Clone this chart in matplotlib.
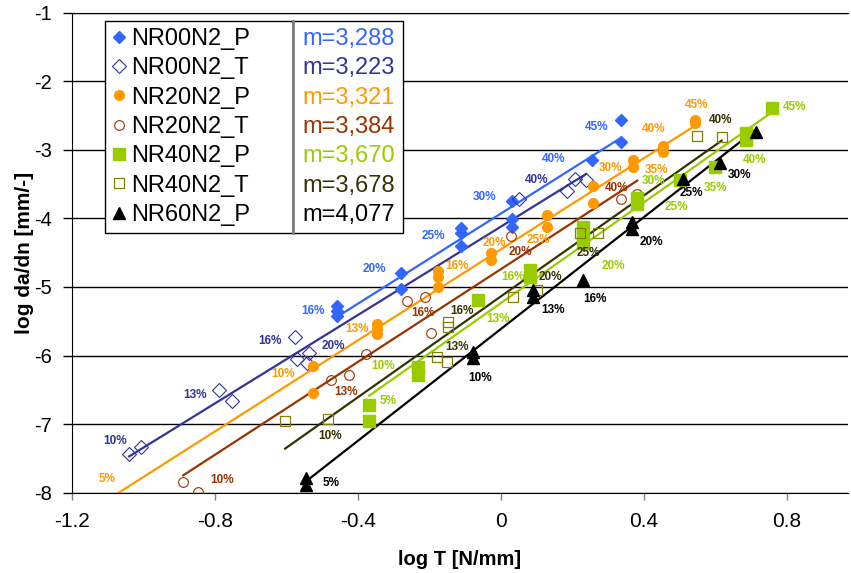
import matplotlib
matplotlib.use("Agg")
import matplotlib.pyplot as plt
import numpy as np
from matplotlib.patches import Rectangle

plt.rcParams['font.family'] = ['Liberation Sans', 'DejaVu Sans']
plt.rcParams['axes.unicode_minus'] = False

# log T [N/mm] and log da/dn [mm/-] for each test series
nr00p_x = [-0.458, -0.458, -0.458, -0.279, -0.279, -0.111, -0.111, -0.111, 0.032, 0.032, 0.032, 0.256, 0.336, 0.336]
nr00p_y = [-5.28, -5.35, -5.42, -4.79, -5.03, -4.14, -4.21, -4.40, -3.75, -4.01, -4.13, -3.15, -2.89, -2.56]

nr00t_x = [-1.039, -1.006, -0.789, -0.752, -0.575, -0.571, -0.535, -0.543, 0.052, 0.185, 0.208, 0.239]
nr00t_y = [-7.44, -7.33, -6.50, -6.67, -5.73, -6.05, -5.97, -6.11, -3.72, -3.60, -3.42, -3.44]

nr20p_x = [-1.085, -0.524, -0.524, -0.347, -0.347, -0.347, -0.175, -0.175, -0.175, -0.028, -0.028,
           0.129, 0.129, 0.259, 0.259, 0.371, 0.371, 0.455, 0.455, 0.544, 0.544]
nr20p_y = [-8.10, -6.15, -6.54, -5.54, -5.61, -5.68, -4.77, -4.86, -5.00, -4.51, -4.61,
           -3.95, -4.12, -3.53, -3.77, -3.15, -3.25, -2.94, -3.03, -2.57, -2.61]

nr20t_x = [-0.888, -0.846, -0.476, -0.424, -0.378, -0.261, -0.212, -0.195, 0.030, 0.336, 0.382]
nr20t_y = [-7.85, -7.99, -6.36, -6.28, -5.98, -5.20, -5.14, -5.67, -4.25, -3.72, -3.64]

nr40p_x = [-0.368, -0.368, -0.232, -0.232, -0.064, 0.082, 0.082, 0.231, 0.231, 0.231, 0.382, 0.382,
           0.502, 0.600, 0.685, 0.685, 0.760]
nr40p_y = [-6.72, -6.95, -6.17, -6.28, -5.19, -4.75, -4.86, -4.13, -4.24, -4.36, -3.70, -3.79,
           -3.44, -3.25, -2.76, -2.86, -2.39]

nr40t_x = [-0.603, -0.482, -0.177, -0.151, -0.147, -0.147, 0.035, 0.101, 0.222, 0.273, 0.550, 0.618]
nr40t_y = [-6.96, -6.93, -6.02, -6.09, -5.51, -5.59, -5.14, -5.04, -4.22, -4.22, -2.80, -2.81]

nr60p_x = [-0.545, -0.545, -0.078, -0.078, 0.090, 0.090, 0.229, 0.366, 0.366, 0.511, 0.613, 0.714]
nr60p_y = [-7.79, -7.89, -5.95, -6.04, -5.04, -5.15, -4.90, -4.05, -4.15, -3.42, -3.19, -2.74]

names = ["NR00N2_P", "NR00N2_T", "NR20N2_P", "NR20N2_T", "NR40N2_P", "NR40N2_T", "NR60N2_P"]
slopes = [3.288, 3.223, 3.321, 3.384, 3.670, 3.678, 4.077]
slope_text = ["m=3,288", "m=3,223", "m=3,321", "m=3,384", "m=3,670", "m=3,678", "m=4,077"]

# percentage labels (text, log T, log da/dn)
nr00p_lbl = [("16%", -0.524, -5.35), ("20%", -0.352, -4.74), ("25%", -0.187, -4.25),
             ("30%", -0.044, -3.69), ("40%", 0.149, -3.13), ("45%", 0.267, -2.67)]
nr00t_lbl = [("10%", -1.079, -7.24), ("13%", -0.854, -6.57), ("16%", -0.645, -5.79),
             ("20%", -0.469, -5.86), ("40%", 0.101, -3.44)]
nr20p_lbl = [("5%", -1.102, -7.80), ("10%", -0.609, -6.27), ("13%", -0.402, -5.61),
             ("16%", -0.122, -4.69), ("20%", -0.019, -4.36), ("25%", 0.105, -4.31),
             ("30%", 0.306, -3.27), ("35%", 0.436, -3.29), ("40%", 0.429, -2.70), ("45%", 0.548, -2.35)]
nr20t_lbl = [("10%", -0.779, -7.82), ("13%", -0.434, -6.53), ("16%", -0.217, -5.38),
             ("20%", 0.054, -4.49), ("40%", 0.324, -3.55)]
nr40p_lbl = [("5%", -0.314, -6.67), ("10%", -0.328, -6.15), ("13%", -0.007, -5.47),
             ("16%", 0.035, -4.85), ("20%", 0.315, -4.70), ("25%", 0.492, -3.84),
             ("30%", 0.427, -3.46), ("35%", 0.602, -3.56), ("40%", 0.711, -3.15), ("45%", 0.823, -2.38)]
nr40t_lbl = [("10%", -0.477, -7.18), ("13%", -0.123, -5.87), ("16%", -0.109, -5.35),
             ("20%", 0.140, -4.86), ("25%", 0.245, -4.51), ("40%", 0.615, -2.56)]
nr60p_lbl = [("5%", -0.473, -7.86), ("10%", -0.058, -6.33), ("13%", 0.147, -5.34),
             ("16%", 0.264, -5.17), ("20%", 0.422, -4.35), ("25%", 0.534, -3.63), ("30%", 0.669, -3.37)]

xs = [nr00p_x, nr00t_x, nr20p_x, nr20t_x, nr40p_x, nr40t_x, nr60p_x]
ys = [nr00p_y, nr00t_y, nr20p_y, nr20t_y, nr40p_y, nr40t_y, nr60p_y]
lbls = [nr00p_lbl, nr00t_lbl, nr20p_lbl, nr20t_lbl, nr40p_lbl, nr40t_lbl, nr60p_lbl]

colors = ["#3366FF", "#333399", "#FF9900", "#993300", "#99CC00", "#333300", "#000000"]
marker_style = [
    dict(marker="D", ms=6.5, mfc="#3366FF", mec="#3366FF"),
    dict(marker="D", ms=7, mfc="none", mec="#333399", mew=0.8),
    dict(marker="o", ms=7, mfc="#FF9900", mec="#FF9900"),
    dict(marker="o", ms=7, mfc="none", mec="#993300", mew=0.8),
    dict(marker="s", ms=8, mfc="#99CC00", mec="#99CC00"),
    dict(marker="s", ms=7.5, mfc="none", mec="#808000", mew=0.9),
    dict(marker="^", ms=8, mfc="#000000", mec="#000000"),
]

fig = plt.figure(figsize=(8.51, 5.73), dpi=100)
ax = fig.add_axes([71.7 / 851, 1 - 492.7 / 573, 776.3 / 851, 480 / 573])

handles = []
for x, y, m, c, st, lb, name in zip(xs, ys, slopes, colors, marker_style, lbls, names):
    x = np.array(x)
    y = np.array(y)
    # trend line with the given exponent through the centroid of the points
    xl = np.array([x.min(), x.max()])
    ax.plot(xl, y.mean() + m * (xl - x.mean()), color=c, lw=1.6, zorder=2)
    h, = ax.plot(x, y, ls="none", zorder=3, label=name, **st)
    handles.append(h)
    for t, tx, ty in lb:
        ax.text(tx, ty, t, color=c, fontsize=8.5, fontweight="bold",
                ha="center", va="center", zorder=4)

ax.set_xlim(-1.2, 0.9715)
ax.set_ylim(-8, -1)
ax.set_xticks([-1.2, -0.8, -0.4, 0, 0.4, 0.8])
ax.set_xticklabels(["-1.2", "-0.8", "-0.4", "0", "0.4", "0.8"])
ax.set_yticks(range(-8, 0))
ax.yaxis.grid(True, color="black", lw=1)
ax.set_axisbelow(True)
ax.spines["right"].set_visible(False)
ax.tick_params(axis="y", direction="out", length=6.5, width=1, pad=8, labelsize=14.5)
ax.tick_params(axis="x", direction="out", length=5, width=1, color="#808080", pad=9, labelsize=15)

ax.set_xlabel("log T [N/mm]", fontsize=14.5, fontweight="bold")
ax.set_ylabel("log da/dn [mm/-]", fontsize=15, fontweight="bold")
ax.xaxis.set_label_coords(0.5, -0.12)
ax.yaxis.set_label_coords(-0.048, 0.5)

# legend box and the slope box next to it
ax.add_patch(Rectangle((0.0429, 0.541), 0.2422, 0.4417, transform=ax.transAxes,
                       facecolor="white", edgecolor="black", lw=1, zorder=5))
ax.add_patch(Rectangle((0.2851, 0.541), 0.1417, 0.4417, transform=ax.transAxes,
                       facecolor="white", edgecolor="black", lw=1, zorder=5))
ax.plot([0.2851, 0.2851], [0.541, 0.9827], transform=ax.transAxes, color="#808080", lw=2, zorder=6)

leg = ax.legend(handles=handles, loc="upper left", bbox_to_anchor=(0.0429, 0.9827),
                borderaxespad=0, frameon=False, fontsize=17, handlelength=0.55,
                handletextpad=0.25, borderpad=0.3, labelspacing=0.31, numpoints=1)
leg.set_zorder(7)

fig.canvas.draw()
inv = ax.transAxes.inverted()
for t, s, c in zip(leg.get_texts(), slope_text, colors):
    bb = t.get_window_extent()
    yc = inv.transform((0, (bb.y0 + bb.y1) / 2))[1]
    ax.text(0.3572, yc, s, color=c, fontsize=17, ha="center", va="center",
            transform=ax.transAxes, zorder=7)

fig.savefig("out.png", dpi=100)
